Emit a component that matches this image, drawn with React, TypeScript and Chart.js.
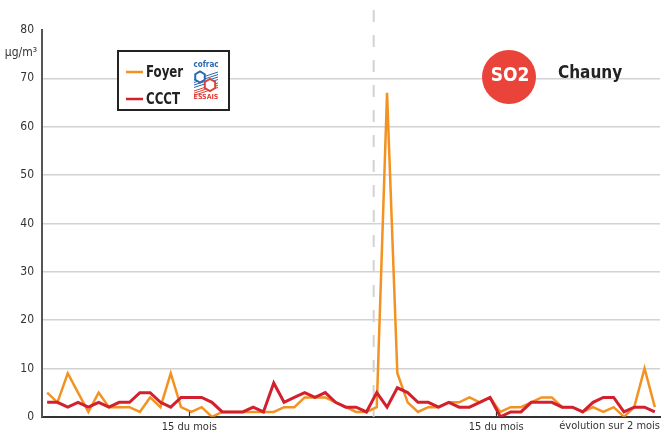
import React, { useEffect, useRef } from 'react';
import { Chart, registerables } from 'chart.js';

Chart.register(...registerables);

// ---- data ----
const SERIES_NAMES = ['Foyer', 'CCCT'];
const FOYER = [5, 3, 9, 5, 1, 5, 2, 2, 2, 1, 4, 2, 9, 2, 1, 2, 0, 1, 1, 1, 1, 1, 1, 2, 2, 4, 4, 4, 3, 2, 1, 1, 2, 67, 9, 3, 1, 2, 2, 3, 3, 4, 3, 4, 1, 2, 2, 3, 4, 4, 2, 2, 1, 2, 1, 2, 0, 2, 10, 2];
const CCCT = [3, 3, 2, 3, 2, 3, 2, 3, 3, 5, 5, 3, 2, 4, 4, 4, 3, 1, 1, 1, 2, 1, 7, 3, 4, 5, 4, 5, 3, 2, 2, 1, 5, 2, 6, 5, 3, 3, 2, 3, 2, 2, 3, 4, 0, 1, 1, 3, 3, 3, 2, 2, 1, 3, 4, 4, 1, 2, 2, 1];
const Y_TICKS = [0, 10, 20, 30, 40, 50, 60, 70, 80];
const X_TICK_POSITIONS = [13.8, 43.6];
const X_TICK_LABEL = '15 du mois';
const X_TITLE = 'évolution sur 2 mois';
const MONTH_SPLIT = 31.7;
const UNIT = 'µg/m³';
const POLLUTANT = 'SO2';
const STATION = 'Chauny';

const COLORS = ['#f39221', '#d3202e'];
const NARROW = '"DejaVu Sans Condensed", "Liberation Sans Narrow", sans-serif';

const decorPlugin = {
  id: 'decor',
  beforeDatasetsDraw(chart: any) {
    const { ctx, chartArea, scales } = chart;
    const x = scales.x.getPixelForValue(MONTH_SPLIT);
    ctx.save();
    ctx.strokeStyle = '#d2d2d2';
    ctx.lineWidth = 2;
    ctx.setLineDash([12, 13]);
    ctx.beginPath();
    ctx.moveTo(x, 10);
    ctx.lineTo(x, chartArea.bottom);
    ctx.stroke();
    ctx.restore();
  },
  afterDraw(chart: any) {
    const { ctx, chartArea, scales } = chart;
    ctx.save();
    // small upward tick marks on x axis
    ctx.strokeStyle = '#333';
    ctx.lineWidth = 1.2;
    X_TICK_POSITIONS.forEach((v) => {
      const px = Math.round(scales.x.getPixelForValue(v)) + 0.5;
      ctx.beginPath();
      ctx.moveTo(px, chartArea.bottom - 5);
      ctx.lineTo(px, chartArea.bottom);
      ctx.stroke();
    });

    // unit label
    ctx.fillStyle = '#333';
    ctx.textAlign = 'right';
    ctx.textBaseline = 'middle';
    ctx.font = `12px ${NARROW}`;
    ctx.fillText(UNIT, chartArea.left - 5, scales.y.getPixelForValue(80) + 23);

    // legend box
    const lx = 118, ly = 51, lw = 111, lh = 59;
    ctx.fillStyle = '#fff';
    ctx.fillRect(lx, ly, lw, lh);
    ctx.strokeStyle = '#222';
    ctx.lineWidth = 2;
    ctx.strokeRect(lx, ly, lw, lh);
    chart.data.datasets.forEach((ds: any, i: number) => {
      const yy = ly + 21 + i * 27;
      ctx.strokeStyle = ds.borderColor;
      ctx.lineWidth = 2.5;
      ctx.beginPath();
      ctx.moveTo(lx + 8, yy);
      ctx.lineTo(lx + 25, yy);
      ctx.stroke();
      ctx.save();
      ctx.translate(lx + 28, yy + 1);
      ctx.scale(0.82, 1);
      ctx.fillStyle = '#222';
      ctx.font = `bold 16px ${NARROW}`;
      ctx.textAlign = 'left';
      ctx.textBaseline = 'middle';
      ctx.fillText(ds.label, 0, 0);
      ctx.restore();
    });

    // cofrac logo (simplified)
    const cx = 206;
    ctx.textAlign = 'center';
    ctx.textBaseline = 'middle';
    ctx.fillStyle = '#2a68b1';
    ctx.font = `bold 8px ${NARROW}`;
    ctx.fillText('cofrac', cx, 65);
    ctx.strokeStyle = '#2a68b1';
    ctx.lineWidth = 1;
    for (let k = 0; k < 4; k++) {
      ctx.beginPath();
      ctx.moveTo(194, 80 + k * 2.5);
      ctx.lineTo(218, 72 + k * 2.5);
      ctx.stroke();
    }
    const hex = (hx: number, hy: number, r: number, col: string) => {
      ctx.beginPath();
      for (let a = 0; a < 6; a++) {
        const ang = Math.PI / 6 + (a * Math.PI) / 3;
        const px = hx + r * Math.cos(ang);
        const py = hy + r * Math.sin(ang);
        if (a === 0) ctx.moveTo(px, py);
        else ctx.lineTo(px, py);
      }
      ctx.closePath();
      ctx.fillStyle = '#fff';
      ctx.fill();
      ctx.strokeStyle = col;
      ctx.lineWidth = 2;
      ctx.stroke();
    };
    hex(200, 77, 5.5, '#2a68b1');
    ctx.strokeStyle = '#e0403a';
    ctx.lineWidth = 1;
    for (let k = 0; k < 3; k++) {
      ctx.beginPath();
      ctx.moveTo(194, 91 + k * 2.2);
      ctx.lineTo(218, 83 + k * 2.2);
      ctx.stroke();
    }
    hex(210, 85, 6, '#e0403a');
    ctx.fillStyle = '#e0403a';
    ctx.font = `bold 7px ${NARROW}`;
    ctx.fillText('ESSAIS', cx, 97);

    // pollutant badge
    ctx.fillStyle = '#e9433a';
    ctx.beginPath();
    ctx.arc(509, 77, 27, 0, Math.PI * 2);
    ctx.fill();
    ctx.fillStyle = '#fff';
    ctx.font = `bold 19px ${NARROW}`;
    ctx.textAlign = 'center';
    ctx.textBaseline = 'alphabetic';
    ctx.fillText(POLLUTANT, 510, 80.5);

    // station name
    ctx.fillStyle = '#222';
    ctx.font = `bold 17px ${NARROW}`;
    ctx.textAlign = 'left';
    ctx.fillText(STATION, 558, 77.5);
    ctx.restore();
  },
};

export default function App() {
  const ref = useRef<HTMLCanvasElement>(null);
  useEffect(() => {
    if (!ref.current) return;
    const chart = new Chart(ref.current, {
      type: 'line',
      data: {
        datasets: [
          {
            label: SERIES_NAMES[0],
            data: FOYER.map((v, i) => ({ x: i, y: v })),
            borderColor: COLORS[0],
            borderWidth: 2.5,
            pointRadius: 0,
            tension: 0,
            order: 2,
          },
          {
            label: SERIES_NAMES[1],
            data: CCCT.map((v, i) => ({ x: i, y: v })),
            borderColor: COLORS[1],
            borderWidth: 3,
            pointRadius: 0,
            tension: 0,
            order: 1,
          },
        ],
      },
      options: {
        animation: false,
        responsive: false,
        layout: { padding: { left: 0, right: 6, top: 30, bottom: 0 } },
        plugins: { legend: { display: false }, tooltip: { enabled: false } },
        scales: {
          x: {
            type: 'linear',
            min: -0.5,
            max: FOYER.length - 0.5,
            afterBuildTicks: (scale: any) => {
              scale.ticks = X_TICK_POSITIONS.map((v) => ({ value: v }));
            },
            afterFit: (scale: any) => {
              scale.height = 13.5;
            },
            grid: { display: false, drawTicks: false },
            border: { display: true, color: '#333', width: 2 },
            ticks: {
              callback: () => X_TICK_LABEL,
              font: { family: NARROW, size: 11 },
              color: '#333',
              padding: 4,
              maxRotation: 0,
              autoSkip: false,
            },
            title: {
              display: true,
              text: X_TITLE,
              align: 'end',
              font: { family: NARROW, size: 11 },
              color: '#333',
              padding: { top: 0, bottom: -2 },
            },
          },
          y: {
            min: 0,
            max: 80,
            afterBuildTicks: (scale: any) => {
              scale.ticks = Y_TICKS.map((v) => ({ value: v }));
            },
            afterFit: (scale: any) => {
              scale.width = 42;
            },
            grid: {
              drawTicks: false,
              color: (c: any) => (c.tick && (c.tick.value === 0 || c.tick.value === 80) ? 'rgba(0,0,0,0)' : '#d2d2d2'),
              lineWidth: 1.5,
            },
            border: { display: true, color: '#555', width: 2 },
            ticks: {
              font: { family: NARROW, size: 12 },
              color: '#333',
              padding: 8,
            },
          },
        },
      },
      plugins: [decorPlugin],
    } as any);
    return () => chart.destroy();
  }, []);
  return (
    <div style={{ position: 'fixed', left: 0, top: 0, width: 666, height: 432, background: '#fff' }}>
      <canvas ref={ref} width={666} height={432} style={{ display: 'block' }} />
    </div>
  );
}
